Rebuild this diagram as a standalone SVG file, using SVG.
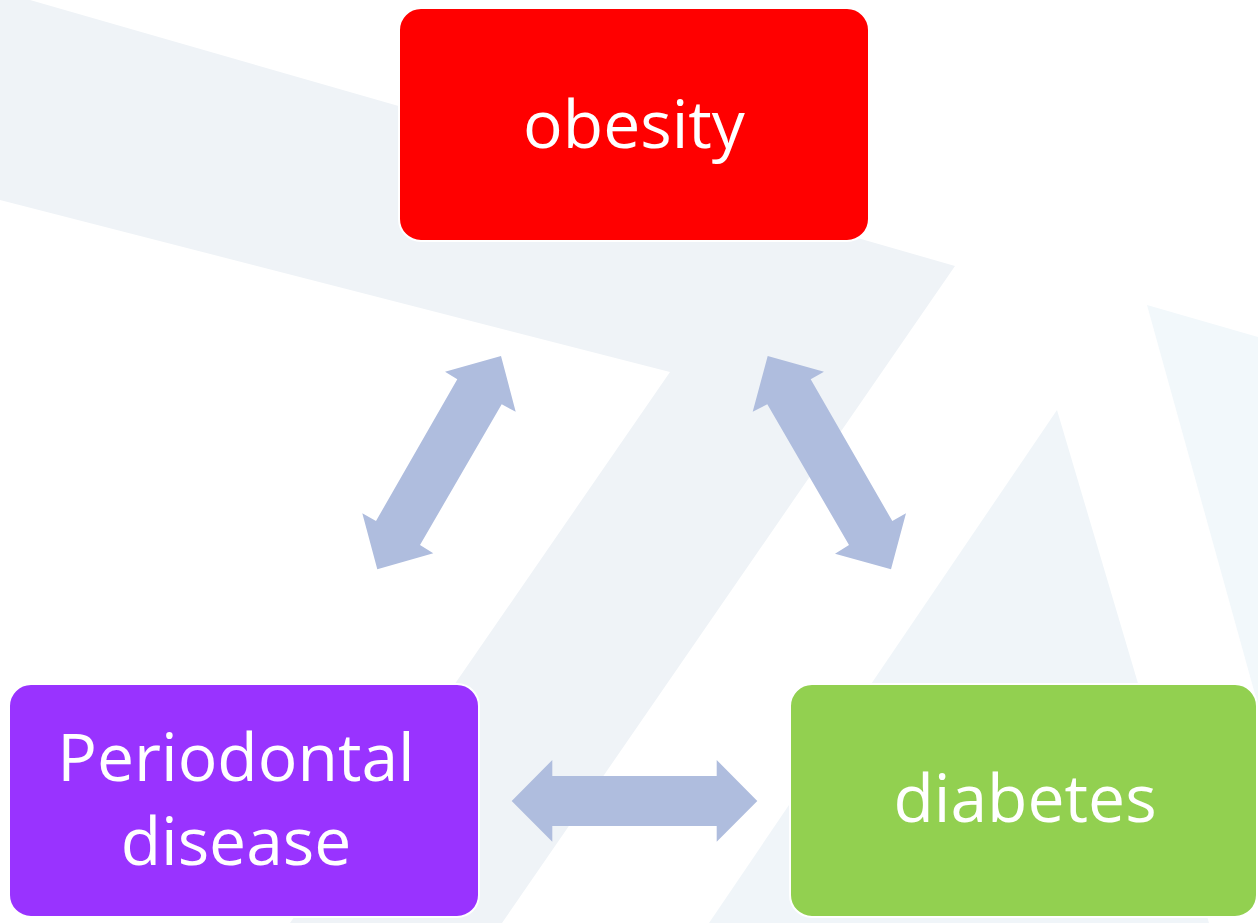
<svg xmlns="http://www.w3.org/2000/svg" width="1258" height="923" viewBox="0 0 1258 923">
<style>
.bg1{fill:#EFF3F7}
.bg2{fill:#F0F5F9}
.bg3{fill:#F2F8FB}
.box{stroke:#FFFFFF;stroke-width:2}
.lbl{font-family:"Open Sans","Liberation Sans",sans-serif;font-size:66px;fill:#FFFFFF;text-anchor:middle}
.arr{fill:#AFBDDE}
</style>
<rect width="1258" height="923" fill="#FFFFFF"/>
<g id="background">
<polygon class="bg1" points="0,0 30,0 955,266 502,923 290,923 670,372 0,200"/>
<polygon class="bg2" points="1057,410 1209,923 709,923"/>
<polygon class="bg3" points="1147,305 1258,337 1258,705"/>
</g>
<g id="connectors">
<polygon class="arr" points="501,356 515.7,411.7 501.7,404.3 420,545 433.3,553.3 377.3,569.3 362.3,513.3 376,521 457.3,379.3 445,371.7"/>
<polygon class="arr" points="767.7,356 824,371.7 810.7,379.3 892.3,521 906,513.3 891,569.3 835,553.7 849,545 767.3,404.3 752.7,411.7"/>
<polygon class="arr" points="511.7,801 552.3,760 552.3,776 716.7,776 716.7,760 757.3,801 716.7,841.7 716.7,826 552.3,826 552.3,841.7"/>
</g>
<g id="node-obesity">
<rect class="box" x="399" y="8" width="470" height="233" rx="22" fill="#FF0000"/>
<text class="lbl" x="634" y="148">obesity</text>
</g>
<g id="node-periodontal">
<rect class="box" x="9" y="684" width="470" height="233" rx="22" fill="#9933FF"/>
<text class="lbl" x="236" y="781">Periodontal</text>
<text class="lbl" x="236" y="865">disease</text>
</g>
<g id="node-diabetes">
<rect class="box" x="790" y="684" width="467" height="233" rx="22" fill="#92D050"/>
<text class="lbl" x="1025" y="822">diabetes</text>
</g>
</svg>
